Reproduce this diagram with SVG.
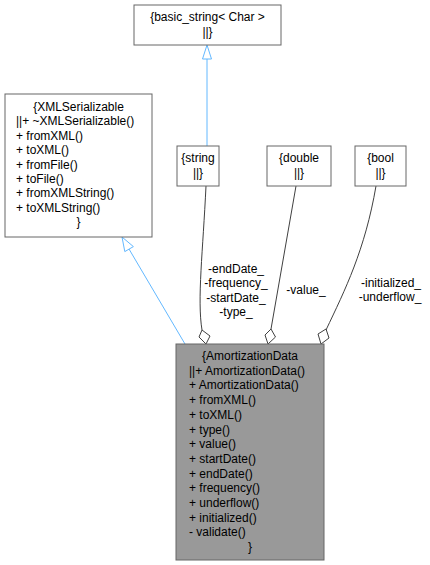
<svg xmlns="http://www.w3.org/2000/svg" width="430" height="565" viewBox="0 0 430 565">
<style>
text{font-family:"Liberation Sans",Arial,sans-serif;font-size:12px;fill:#000}
.c{text-anchor:middle}
.box{fill:#fff;stroke:#666;stroke-width:1}
.main{fill:#999;stroke:#666;stroke-width:1}
.inh{fill:none;stroke:#63b8ff;stroke-width:1}
.inhh{fill:#fff;stroke:#63b8ff;stroke-width:1}
.use{fill:none;stroke:#404040;stroke-width:1}
.useh{fill:#fff;stroke:#404040;stroke-width:1}
</style>
<rect width="430" height="565" fill="#fff"/>
<g id="connectors">
<path class="inh" d="M207,146 L207,59"/>
<polygon class="inhh" points="207,45 211.5,59 202.5,59"/>
<path class="inh" d="M185,344 L129,249"/>
<polygon class="inhh" points="122,237 133.4,246.6 124.8,251.6"/>
<path class="use" d="M206,186 C203,250 197,300 202,330"/>
<polygon class="useh" points="206,344 210,336 202,330 199,337"/>
<path class="use" d="M296,186 L271,329"/>
<polygon class="useh" points="268,344 275.5,337 271,329 265,335"/>
<path class="use" d="M376,186 C365,250 345,290 326,330"/>
<polygon class="useh" points="321,344 329,338 326,329 318,334"/>
<text class="c" x="236" y="273">-endDate_</text>
<text class="c" x="236" y="287.4">-frequency_</text>
<text class="c" x="236" y="301.8">-startDate_</text>
<text class="c" x="236" y="316.2">-type_</text>
<text class="c" x="306" y="294">-value_</text>
<text class="c" x="391" y="287">-initialized_</text>
<text class="c" x="390" y="301.4">-underflow_</text>
</g>
<g id="basic_string">
<rect class="box" x="134" y="5" width="147" height="40"/>
<text class="c" x="207.5" y="21">{basic_string&lt; Char &gt;</text>
<text class="c" x="207.5" y="36">||}</text>
</g>
<g id="XMLSerializable">
<rect class="box" x="5" y="94" width="147" height="143"/>
<text class="c" x="78.5" y="111">{XMLSerializable</text>
<text x="16" y="125.4">||+ ~XMLSerializable()</text>
<text x="16" y="139.8">+ fromXML()</text>
<text x="16" y="154.2">+ toXML()</text>
<text x="16" y="168.6">+ fromFile()</text>
<text x="16" y="183">+ toFile()</text>
<text x="16" y="197.4">+ fromXMLString()</text>
<text x="16" y="211.8">+ toXMLString()</text>
<text class="c" x="78.5" y="226.2">}</text>
</g>
<g id="string">
<rect class="box" x="177" y="146" width="42" height="40"/>
<text class="c" x="198" y="162">{string</text>
<text class="c" x="198" y="177">||}</text>
</g>
<g id="double">
<rect class="box" x="267" y="146" width="64" height="40"/>
<text class="c" x="299" y="162">{double</text>
<text class="c" x="299" y="177">||}</text>
</g>
<g id="bool">
<rect class="box" x="355" y="146" width="51" height="40"/>
<text class="c" x="380.5" y="162">{bool</text>
<text class="c" x="380.5" y="177">||}</text>
</g>
<g id="AmortizationData">
<rect class="main" x="176" y="344" width="148" height="216"/>
<text class="c" x="250" y="360">{AmortizationData</text>
<text x="189" y="374.7">||+ AmortizationData()</text>
<text x="189" y="389.4">+ AmortizationData()</text>
<text x="189" y="404.1">+ fromXML()</text>
<text x="189" y="418.8">+ toXML()</text>
<text x="189" y="433.5">+ type()</text>
<text x="189" y="448.2">+ value()</text>
<text x="189" y="462.9">+ startDate()</text>
<text x="189" y="477.6">+ endDate()</text>
<text x="189" y="492.3">+ frequency()</text>
<text x="189" y="507">+ underflow()</text>
<text x="189" y="521.7">+ initialized()</text>
<text x="189" y="536.4">- validate()</text>
<text class="c" x="250" y="551.1">}</text>
</g>
</svg>
